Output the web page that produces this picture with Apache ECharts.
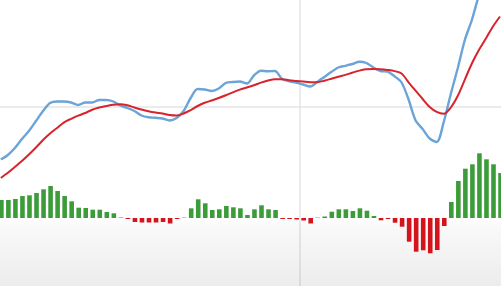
<!DOCTYPE html>
<html>
<head>
<meta charset="utf-8">
<script src="https://cdn.jsdelivr.net/npm/echarts@6/dist/echarts.min.js"></script>
<style>
html,body{margin:0;padding:0;background:#fff;}
#chart{width:501px;height:286px;}
</style>
</head>
<body>
<div id="chart"></div>
<script>
// Periods (72 sessions)
var categories = Array.from({length: 72}, function (_, i) { return 'P' + (i + 1); });

// MACD line (blue)
var macdLine = [-0.53,-0.485,-0.415,-0.325,-0.245,-0.145,-0.045,0.035,0.05,0.05,
  0.04,0.015,0.04,0.04,0.065,0.065,0.05,0.01,-0.015,-0.045,
  -0.09,-0.108,-0.113,-0.12,-0.14,-0.115,-0.045,0.085,0.175,0.17,
  0.155,0.18,0.235,0.245,0.25,0.23,0.31,0.357,0.353,0.355,
  0.275,0.252,0.239,0.22,0.2,0.245,0.295,0.345,0.39,0.407,
  0.425,0.448,0.435,0.39,0.355,0.348,0.302,0.24,0.07,-0.14,
  -0.225,-0.32,-0.355,-0.155,0.125,0.385,0.665,0.865,1.115,1.345,
  1.565,1.785];

// Signal line (red)
var signalLine = [-0.715,-0.663,-0.605,-0.545,-0.48,-0.41,-0.335,-0.27,-0.215,-0.158,
  -0.123,-0.092,-0.065,-0.032,-0.01,0.005,0.018,0.022,0.012,-0.01,
  -0.03,-0.047,-0.06,-0.07,-0.086,-0.091,-0.07,-0.037,0.005,0.037,
  0.06,0.085,0.112,0.141,0.169,0.19,0.212,0.239,0.26,0.273,
  0.273,0.263,0.256,0.249,0.242,0.243,0.258,0.277,0.297,0.316,
  0.338,0.359,0.373,0.374,0.372,0.365,0.354,0.33,0.242,0.158,
  0.075,-0.005,-0.054,-0.072,-0.01,0.107,0.269,0.43,0.565,0.68,
  0.8,0.9];

// Histogram
var histogram = [0.18,0.18,0.19,0.22,0.227,0.25,0.287,0.32,0.27,0.22,
  0.167,0.103,0.10,0.083,0.083,0.06,0.047,0.005,-0.01,-0.04,
  -0.045,-0.045,-0.045,-0.04,-0.055,-0.01,0.004,0.097,0.187,0.147,
  0.08,0.087,0.12,0.107,0.097,0.03,0.087,0.127,0.087,0.08,
  -0.01,-0.01,-0.015,-0.025,-0.055,0.004,0.015,0.063,0.087,0.087,
  0.07,0.097,0.073,0.02,-0.023,-0.01,-0.047,-0.087,-0.237,-0.337,
  -0.323,-0.353,-0.32,-0.08,0.16,0.37,0.493,0.537,0.647,0.587,
  0.537,0.45];

var chart = echarts.init(document.getElementById('chart'), null, {renderer: 'canvas'});
var gridLine = {color: '#e4e4e4', width: 1.5};
chart.setOption({
  animation: false,
  backgroundColor: '#ffffff',
  grid: [
    {left: -2.7, right: -2.5, top: -93.5, height: 400, outerBoundsMode: 'none', containLabel: false},
    {left: -2.7, right: -2.5, top: 118, height: 200, outerBoundsMode: 'none', containLabel: false}
  ],
  xAxis: [
    {type: 'category', gridIndex: 0, data: categories, boundaryGap: true,
     axisLine: {show: false}, axisTick: {show: false}, axisLabel: {show: false},
     splitLine: {show: true, lineStyle: {color: '#e4e4e4', width: 1.5}, interval: 42}},
    {type: 'category', gridIndex: 1, data: categories, boundaryGap: true,
     axisLine: {show: false}, axisTick: {show: false}, axisLabel: {show: false},
     splitLine: {show: false}}
  ],
  yAxis: [
    {type: 'value', gridIndex: 0, min: -2, max: 2, interval: 2,
     axisLine: {show: false}, axisTick: {show: false}, axisLabel: {show: false},
     splitLine: {show: true, lineStyle: gridLine}},
    {type: 'value', gridIndex: 1, min: -1, max: 1,
     axisLine: {show: false}, axisTick: {show: false}, axisLabel: {show: false},
     splitLine: {show: false}}
  ],
  series: [
    {type: 'bar', xAxisIndex: 1, yAxisIndex: 1, data: [], z: 1, silent: true,
     markArea: {silent: true, data: [[{yAxis: 0}, {yAxis: -1}]],
       itemStyle: {color: {type: 'linear', x: 0, y: 0, x2: 0, y2: 1, colorStops: [
         {offset: 0, color: 'rgba(0,0,0,0.0)'},
         {offset: 0.08, color: 'rgba(0,0,0,0.025)'},
         {offset: 0.68, color: 'rgba(0,0,0,0.075)'},
         {offset: 1, color: 'rgba(0,0,0,0.1)'}]}}}},
    {type: 'bar', xAxisIndex: 1, yAxisIndex: 1, data: histogram, barWidth: 4.6, z: 3,
     itemStyle: {color: function (p) { return p.value >= 0 ? '#3c9c3a' : '#d3141c'; }}},
    {type: 'line', xAxisIndex: 0, yAxisIndex: 0, data: macdLine, smooth: 0.3,
     showSymbol: false, z: 4, lineStyle: {color: '#6aa4d8', width: 2.4}},
    {type: 'line', xAxisIndex: 0, yAxisIndex: 0, data: signalLine, smooth: 0.3,
     showSymbol: false, z: 5, lineStyle: {color: '#d8232a', width: 2}}
  ]
});
</script>
</body>
</html>
